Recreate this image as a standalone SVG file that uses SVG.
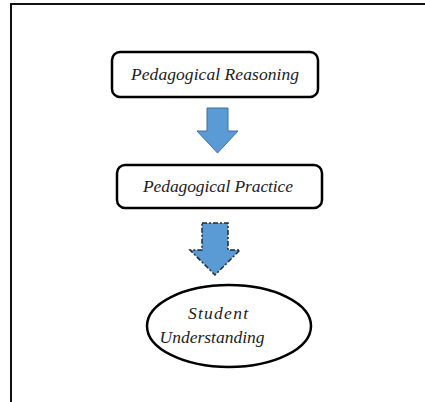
<svg xmlns="http://www.w3.org/2000/svg" width="425" height="402" viewBox="0 0 425 402">
<style>
.box{fill:#fff;stroke:#000;stroke-width:2.5}
.t{font-family:"Liberation Serif","Times New Roman",serif;font-style:italic;font-size:17.5px;fill:#222;text-anchor:middle}
.arr{fill:#5B9BD5;stroke:#41719C;stroke-width:1}
.arrd{fill:#5B9BD5;stroke:#1f2a36;stroke-width:1.5;stroke-dasharray:5 2 2 2}
</style>
<rect width="425" height="402" fill="#fff"/>
<g id="frame"><path d="M11 402 V4 H425" fill="none" stroke="#111" stroke-width="2"/></g>
<g id="n1"><rect class="box" x="112" y="52" width="206" height="45" rx="8"/><text class="t" x="215" y="80" textLength="168" lengthAdjust="spacing">Pedagogical Reasoning</text></g>
<g id="n2"><rect class="box" x="117" y="165" width="205" height="43" rx="8"/><text class="t" x="218" y="192" textLength="150" lengthAdjust="spacing">Pedagogical Practice</text></g>
<g id="n3"><ellipse class="box" cx="229" cy="326" rx="82" ry="41"/><text class="t" x="218" y="319" textLength="60" lengthAdjust="spacing">Student</text><text class="t" x="212" y="343" textLength="105" lengthAdjust="spacing">Understanding</text></g>
<g id="connectors">
<path class="arr" d="M207 108 H228 V131 H238 L217.5 153 L197 131 H207 Z"/>
<path class="arrd" d="M202 223 H228 V250 H240 L215 275 L190 250 H202 Z"/>
</g>
</svg>
